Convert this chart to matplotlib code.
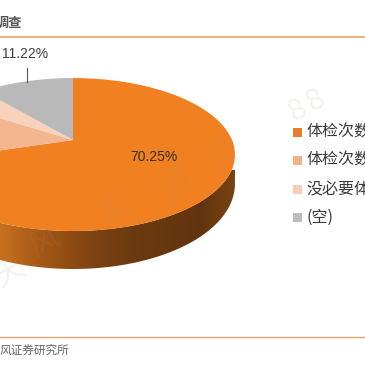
"""Orange 3D-look pie with cropped legend, title and source line."""
import matplotlib
matplotlib.use("Agg")
import matplotlib.pyplot as plt
import numpy as np
from matplotlib.patches import Polygon

plt.rcParams["font.family"] = ["Noto Sans CJK SC", "DejaVu Sans"]

# data
slice_names = ["体检次数", "体检次数", "没必要体", "(空)"]
slice_values = [70.25, 13.9, 4.63, 11.22]
slice_colors = ["#f08020", "#f3b68e", "#f8d2bb", "#b9b9b9"]
legend_colors = ["#e97d2c", "#f2b088", "#f8cdb4", "#bdbdbd"]
watermark_chars = ["天", "风", "股", "投", "资", "8", "8"]

APEX = (73, 140)
A, B, K = 159, 73.7, 0.19


def project(theta):
    # circle -> tilted ellipse, in pixel coords
    d = 1 + K * np.sin(theta)
    return APEX[0] + A * np.cos(theta) / d, APEX[1] - B * np.sin(theta) / d


fig = plt.figure(figsize=(3.65, 3.65), dpi=100)
ax = fig.add_axes([0, 0, 1, 1])
ax.set_xlim(0, 365)
ax.set_ylim(365, 0)
ax.axis("off")

# side wall of the first slice
fracs = np.array(slice_values) / sum(slice_values)
edges = np.pi / 2 - 2 * np.pi * np.concatenate([[0], np.cumsum(fracs)])
th = np.linspace(np.arcsin(-K), edges[1], 200)
x, y = project(th)
depth = 27 + 11 * np.clip(-np.sin(th), 0, 1)
wall = np.column_stack([np.r_[x, x[::-1]], np.r_[y, (y + depth)[::-1]]])
stops_x = [0, 40, 90, 130, 200, 235]
stops_c = np.array([[200, 112, 30], [165, 88, 22], [128, 68, 18],
                    [108, 58, 16], [98, 52, 14], [122, 68, 18]]) / 255
grad_x = np.arange(0, 240)
grad = np.stack([np.interp(grad_x, stops_x, stops_c[:, i]) for i in range(3)], axis=-1)[None]
im = ax.imshow(grad, extent=(0, 240, 280, 170), aspect="auto", zorder=1)
im.set_clip_path(Polygon(wall, transform=ax.transData))
ax.set_xlim(0, 365)
ax.set_ylim(365, 0)

# top face
for i, col in enumerate(slice_colors):
    th = np.linspace(edges[i], edges[i + 1], 200)
    x, y = project(th)
    ax.add_patch(Polygon(np.column_stack([np.r_[APEX[0], x], np.r_[APEX[1], y]]),
                         closed=True, fc=col, ec="none", zorder=2))

# labels
ax.text(154, 157, f"{slice_values[0]:.2f}%", fontsize=10, color="#303030",
        ha="center", va="center", zorder=6, family=["Liberation Sans"])
ax.text(48, 54.5, f"{slice_values[3]:.2f}%", fontsize=10, color="#404040",
        ha="right", va="center", zorder=6, family=["Liberation Sans"])
ax.plot([27, 27], [68, 82], color="#555555", lw=0.8, zorder=3)

# legend, running off the right edge like the source
for name, col, ly in zip(slice_names, legend_colors, [132, 160, 189, 217]):
    ax.add_patch(plt.Rectangle((293, ly - 4.5), 9, 9, fc=col, ec="none", zorder=3))
    ax.text(306, ly, name, fontsize=11.5, color="#3a3a3a", va="center", ha="left")

# header and footer
ax.axhline(37, color="#dba566", lw=1.2)
ax.axhline(336.5, color="#dba566", lw=1.0)
ax.text(22, 23, "调查", fontsize=9.5, fontweight="bold", color="#555555", ha="right", va="center")
ax.text(0, 350, "风证券研究所", fontsize=8.4, color="#666666", ha="left", va="center")

# faint watermark
for ch, wx, wy in zip(watermark_chars, [10, 45, 117, 180, 222, 298, 316],
                      [272, 242, 207, 187, 155, 110, 100]):
    ax.text(wx, wy, ch, fontsize=22, color="#b89070", alpha=0.12, rotation=30,
            ha="center", va="center", zorder=5)

fig.savefig("out.png", dpi=100)
